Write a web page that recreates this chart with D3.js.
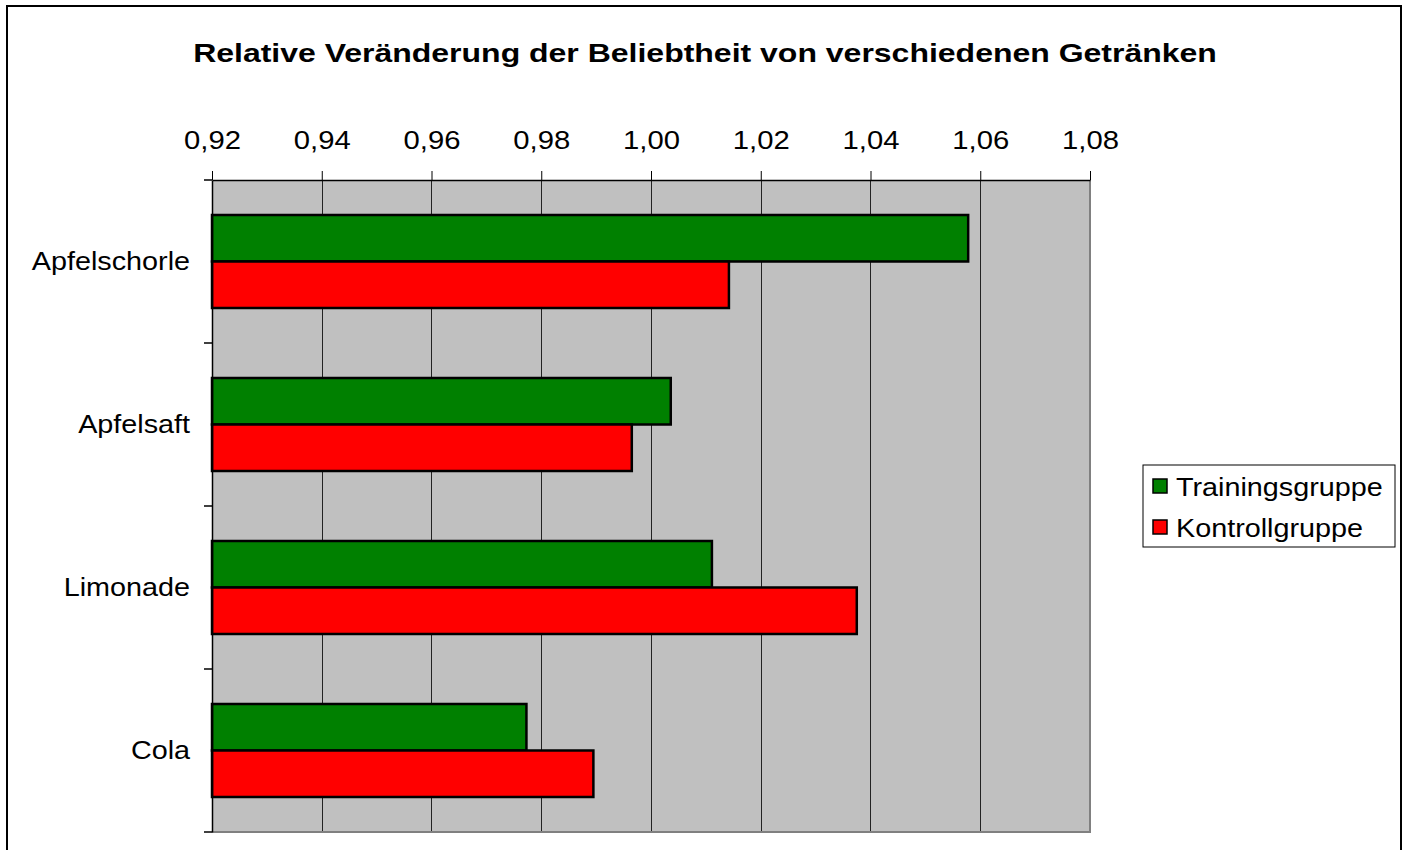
<!DOCTYPE html>
<html>
<head>
<meta charset="utf-8">
<script src="https://cdn.jsdelivr.net/npm/d3@7"></script>
<style>
  body { margin: 0; background: #fff; }
  text { font-family: "Liberation Sans", Arial, sans-serif; fill: #000; }
</style>
</head>
<body>
<div class="chart"></div>
<script>
var width = 1410, height = 850;
var plot = { left: 212, top: 180, right: 1090, bottom: 832 };

var categories = ["Apfelschorle", "Apfelsaft", "Limonade", "Cola"];
var seriesNames = ["Trainingsgruppe", "Kontrollgruppe"];
var training = [1.0578, 1.0036, 1.0111, 0.9773];
var kontroll = [1.0142, 0.9965, 1.0375, 0.9895];
var tickValues = [0.92, 0.94, 0.96, 0.98, 1.00, 1.02, 1.04, 1.06, 1.08];
var colors = ["#008000", "#ff0000"];

var svg = d3.select(".chart")
  .append("svg")
  .attr("width", width)
  .attr("height", height);

// widen glyphs a bit, the original text is drawn wider than Arial
function stretch(sel, f) {
  sel.each(function(){
    var w = this.getComputedTextLength();
    d3.select(this)
      .attr("textLength", w * f)
      .attr("lengthAdjust", "spacingAndGlyphs");
  });
}

// outer frame
svg.append("rect")
  .attr("x", 7).attr("y", 6)
  .attr("width", 1394).attr("height", 860)
  .attr("fill", "#fff")
  .attr("stroke", "#000")
  .attr("stroke-width", 2);

// title
svg.append("text")
  .attr("x", 705).attr("y", 62)
  .attr("text-anchor", "middle")
  .style("font-size", "26px")
  .style("font-weight", "bold")
  .text("Relative Veränderung der Beliebtheit von verschiedenen Getränken")
  .call(stretch, 1.23);

var x_scale = d3.scaleLinear()
  .domain([0.92, 1.08])
  .range([plot.left, plot.right]);

var y_scale = d3.scaleBand()
  .domain(categories)
  .range([plot.top, plot.bottom])
  .paddingInner(0.4294)
  .paddingOuter(0.2147);

var sub_scale = d3.scaleBand()
  .domain(seriesNames)
  .range([0, y_scale.bandwidth()]);

// plot background
svg.append("rect")
  .attr("x", plot.left).attr("y", plot.top)
  .attr("width", plot.right - plot.left)
  .attr("height", plot.bottom - plot.top)
  .attr("fill", "#c0c0c0");

// gridlines
svg.append("g")
  .selectAll("line")
  .data(tickValues.slice(1, -1))
  .enter()
  .append("line")
  .attr("x1", function(d){ return Math.round(x_scale(d)) + 0.5; })
  .attr("x2", function(d){ return Math.round(x_scale(d)) + 0.5; })
  .attr("y1", plot.top)
  .attr("y2", plot.bottom)
  .attr("stroke", "#222")
  .attr("stroke-width", 1);

// plot border right/bottom (grey)
svg.append("path")
  .attr("d", "M" + plot.right + "," + plot.top + "V" + plot.bottom + "H" + plot.left)
  .attr("fill", "none")
  .attr("stroke", "#808080")
  .attr("stroke-width", 2);

// bars
var rows = categories.map(function(c, i){
  return { cat: c, values: [training[i], kontroll[i]] };
});

var groups = svg.append("g")
  .selectAll("g")
  .data(rows)
  .enter()
  .append("g")
  .attr("transform", function(d){ return "translate(0," + y_scale(d.cat) + ")"; });

groups.selectAll("rect")
  .data(function(d){ return d.values.map(function(v, j){ return { s: seriesNames[j], v: v, j: j }; }); })
  .enter()
  .append("rect")
  .attr("x", x_scale(0.92))
  .attr("y", function(d){ return sub_scale(d.s); })
  .attr("width", function(d){ return x_scale(d.v) - x_scale(0.92); })
  .attr("height", sub_scale.bandwidth())
  .attr("fill", function(d){ return colors[d.j]; })
  .attr("stroke", "#000")
  .attr("stroke-width", 2.5);

// top axis
var xAxis = svg.append("g")
  .attr("transform", "translate(0," + plot.top + ")")
  .call(d3.axisTop(x_scale)
    .tickValues(tickValues)
    .tickSizeInner(9)
    .tickSizeOuter(0)
    .tickPadding(22)
    .tickFormat(function(d){ return d3.format(".2f")(d).replace(".", ","); }));
xAxis.select(".domain").attr("stroke", "#000").attr("stroke-width", 1.5);
xAxis.selectAll(".tick line").attr("stroke", "#000");
xAxis.selectAll("text")
  .style("font-size", "25px")
  .attr("font-family", null)
  .call(stretch, 1.17);

// left axis
var yAxis = svg.append("g")
  .attr("transform", "translate(" + plot.left + ",0)")
  .call(d3.axisLeft(y_scale).tickSize(0).tickPadding(22));
yAxis.select(".domain").attr("stroke", "#000").attr("stroke-width", 1.5);
yAxis.selectAll("text")
  .style("font-size", "25px")
  .attr("font-family", null)
  .call(stretch, 1.15);

// category boundary ticks
var step = y_scale.step();
var bounds = d3.range(categories.length + 1).map(function(i){ return plot.top + i * step; });
yAxis.selectAll(".bound")
  .data(bounds)
  .enter()
  .append("line")
  .attr("class", "bound")
  .attr("x1", -8).attr("x2", 0)
  .attr("y1", function(d){ return d; })
  .attr("y2", function(d){ return d; })
  .attr("stroke", "#000")
  .attr("stroke-width", 1.5);

// legend
var legend = svg.append("g").attr("transform", "translate(1143,465)");
legend.append("rect")
  .attr("width", 252).attr("height", 82)
  .attr("fill", "#fff")
  .attr("stroke", "#000")
  .attr("stroke-width", 1);

var items = legend.selectAll(".item")
  .data(seriesNames)
  .enter()
  .append("g")
  .attr("class", "item")
  .attr("transform", function(d, i){ return "translate(10," + (22 + i * 41) + ")"; });
items.append("rect")
  .attr("x", 0).attr("y", -8)
  .attr("width", 14).attr("height", 14)
  .attr("fill", function(d, i){ return colors[i]; })
  .attr("stroke", "#000")
  .attr("stroke-width", 1.5);
items.append("text")
  .attr("x", 23).attr("y", 0)
  .attr("dy", "0.35em")
  .style("font-size", "25px")
  .text(function(d){ return d; })
  .call(stretch, 1.15);
</script>
</body>
</html>
